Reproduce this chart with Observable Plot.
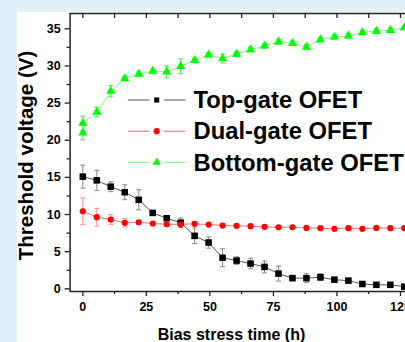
<!DOCTYPE html>
<html><head><meta charset="utf-8">
<script src="https://cdn.jsdelivr.net/npm/d3@7"></script>
<script src="https://cdn.jsdelivr.net/npm/@observablehq/plot@0.6"></script>
<style>
html,body{margin:0;padding:0;}
body{width:405px;height:342px;overflow:hidden;background:#e0f1fa;position:relative;font-family:"Liberation Sans",Arial,sans-serif;}
#panel{position:absolute;left:17px;top:12px;width:400px;height:330px;background:#fff;overflow:visible;}
#chart{position:absolute;left:0;top:0;}
#overlay{position:absolute;left:0;top:0;pointer-events:none;}
</style></head><body>
<div id="panel"><div id="chart"></div></div>
<svg id="overlay" width="405" height="342"></svg>
<script>
// ---- data ----
const seriesNames = ["Top-gate OFET", "Dual-gate OFET", "Bottom-gate OFET"];
const times = [0, 5.5, 11, 16.5, 22, 27.5, 33, 38.5, 44, 49.5, 55, 60.5, 66, 71.5, 77, 82.5, 88, 93.5, 99, 104.5, 110, 115.5, 121, 126.5];
const topGate = [15.1, 14.6, 13.75, 13.0, 11.98, 10.22, 9.5, 8.9, 7.13, 6.23, 4.18, 3.8, 3.4, 2.95, 2.05, 1.43, 1.43, 1.56, 1.23, 1.1, 0.65, 0.54, 0.54, 0.29];
const topGateErr = [1.55, 1.35, 0.67, 1.0, 1.35, 0.3, 0.3, 0.63, 1.05, 0.75, 1.2, 0.5, 0.7, 0.8, 1.0, 0.3, 0.6, 0.45, 0.2, 0.2, 0.2, 0.2, 0.2, 0.2];
const dualGate = [10.44, 9.64, 9.33, 8.88, 8.96, 8.79, 8.69, 8.69, 8.75, 8.65, 8.52, 8.48, 8.43, 8.34, 8.29, 8.29, 8.2, 8.16, 8.08, 8.16, 8.08, 8.2, 8.16, 8.16];
const dualGateErr = [1.8, 1.2, 0.65, 0.56, 0.2, 0.2, 0.2, 0.2, 0.2, 0.2, 0.2, 0.2, 0.2, 0.2, 0.2, 0.2, 0.2, 0.2, 0.2, 0.2, 0.2, 0.2, 0.2, 0.2];
const bottomTimes = [0, 0, 5.5, 11, 16.5, 22, 27.5, 33, 38.5, 44, 49.5, 55, 60.5, 66, 71.5, 77, 82.5, 88, 93.5, 99, 104.5, 110, 115.5, 121, 126.5];
const bottomGate = [21.0, 22.3, 23.8, 26.6, 28.3, 28.9, 29.3, 29.2, 29.95, 30.75, 31.5, 31.0, 31.6, 32.2, 32.7, 33.25, 33.05, 32.55, 33.55, 33.9, 34.05, 34.5, 34.7, 34.8, 35.15];
const bottomGateErr = [0.95, 0.95, 0.65, 0.75, 0.3, 0.3, 0.3, 0.8, 1.0, 0.3, 0.3, 0.6, 0.3, 0.3, 0.3, 0.3, 0.3, 0.3, 0.3, 0.3, 0.3, 0.3, 0.3, 0.3, 0.3];
const xTicks = [0, 25, 50, 75, 100, 125];
const xMinorTicks = [12.5, 37.5, 62.5, 87.5, 112.5];
const xTopTicks = [0, 12.5, 25, 37.5, 50, 62.5, 75, 87.5, 100, 112.5, 125];
const yTicks = [0, 5, 10, 15, 20, 25, 30, 35];
const yMinorTicks = [2.5, 7.5, 12.5, 17.5, 22.5, 27.5, 32.5];
const xTitle = "Bias stress time (h)";
const yTitle = "Threshold voltage (V)";

const mk = (ts, vs, es) => ts.map((t, i) => ({t, v: vs[i], e: es[i]}));
const dTop = mk(times, topGate, topGateErr);
const dDual = mk(times, dualGate, dualGateErr);
const dBot = mk(bottomTimes, bottomGate, bottomGateErr);

const capSymbol = {draw(ctx, size) { const w = Math.sqrt(size / Math.PI); ctx.moveTo(-w, 0); ctx.lineTo(w, 0); }};

function seriesMarks(data, lineColor, errColor, markerColor, symbol, r) {
  return [
    Plot.ruleX(data, {x: "t", y1: d => d.v - d.e, y2: d => d.v + d.e, stroke: errColor, strokeWidth: 1}),
    Plot.dot(data, {x: "t", y: d => d.v + d.e, symbol: capSymbol, r: 2.5, stroke: errColor, fill: "none", strokeWidth: 1}),
    Plot.dot(data, {x: "t", y: d => d.v - d.e, symbol: capSymbol, r: 2.5, stroke: errColor, fill: "none", strokeWidth: 1}),
    Plot.line(data, {x: "t", y: "v", stroke: lineColor, strokeWidth: 1}),
    Plot.dot(data, {x: "t", y: "v", symbol, r, fill: markerColor, stroke: "none"})
  ];
}

const axisColor = "#222";
const plot = Plot.plot({
  width: 397, height: 330,
  marginLeft: 52.6, marginRight: 1.3, marginTop: 1, marginBottom: 51,
  style: {fontFamily: "'Liberation Sans', Arial, sans-serif", fontWeight: "bold", fontSize: "12.5px", color: "#000", background: "#fff", overflow: "visible"},
  x: {domain: [-5, 130]},
  y: {domain: [-0.36, 37.06]},
  marks: [
    ...seriesMarks(dTop, "#555", "#888", "#000", "square", 3.7),
    ...seriesMarks(dDual, "#ff6e6e", "#ff8a8a", "#ff0000", "circle", 3.1),
    ...seriesMarks(dBot, "#7dff7d", "#55dd55", "#00ff00", "triangle", 3.4),
    Plot.axisY({ticks: yTicks, tickSize: 5, tickPadding: 4.5, label: null, stroke: axisColor, strokeWidth: 1.3}),
    Plot.axisY({ticks: yMinorTicks, tickSize: 3, tickFormat: () => "", label: null, stroke: axisColor, strokeWidth: 1.3}),
    Plot.axisX({ticks: xTicks, tickSize: 5, tickPadding: 5.5, label: null, stroke: axisColor, strokeWidth: 1.3}),
    Plot.axisX({ticks: xMinorTicks, tickSize: 3, tickFormat: () => "", label: null, stroke: axisColor, strokeWidth: 1.3}),
    Plot.axisX({anchor: "top", ticks: xTopTicks, tickSize: 4, dy: 4, tickFormat: () => "", label: null, stroke: axisColor, strokeWidth: 1.3}),
    Plot.frame({stroke: axisColor, strokeWidth: 1.5})
  ]
});
document.getElementById("chart").appendChild(plot);

// ---- titles and legend overlay ----
const ov = d3.select("#overlay");
const font = "'Liberation Sans', Arial, sans-serif";
ov.append("text").attr("x", 231.5).attr("y", 340).attr("text-anchor", "middle")
  .attr("font-family", font).attr("font-weight", "bold").attr("font-size", 16).text(xTitle);
ov.append("text").attr("transform", "translate(33,155.5) rotate(-90)").attr("text-anchor", "middle")
  .attr("font-family", font).attr("font-weight", "bold").attr("font-size", 20.5).text(yTitle);

const legendStyles = [
  {line: "#555", fill: "#000", symbol: d3.symbolSquare, size: 26},
  {line: "#ff6e6e", fill: "#ff0000", symbol: d3.symbolCircle, size: 30},
  {line: "#7dff7d", fill: "#00ff00", symbol: d3.symbolTriangle, size: 30}
];
const rowY = [100, 131.2, 162.3];
seriesNames.forEach((name, i) => {
  const s = legendStyles[i], y = rowY[i];
  const g = ov.append("g");
  g.append("line").attr("x1", 128).attr("x2", 149.5).attr("y1", y).attr("y2", y).attr("stroke", s.line).attr("stroke-width", 1);
  g.append("line").attr("x1", 164).attr("x2", 185.5).attr("y1", y).attr("y2", y).attr("stroke", s.line).attr("stroke-width", 1);
  g.append("path").attr("d", d3.symbol(s.symbol, s.size)()).attr("transform", `translate(156.7,${y})`).attr("fill", s.fill);
  g.append("text").attr("x", 193.5).attr("y", y + 8.2).attr("font-family", font).attr("font-weight", "bold")
    .attr("font-size", 23.8).attr("fill", "#000").text(name);
});
</script>
</body></html>
